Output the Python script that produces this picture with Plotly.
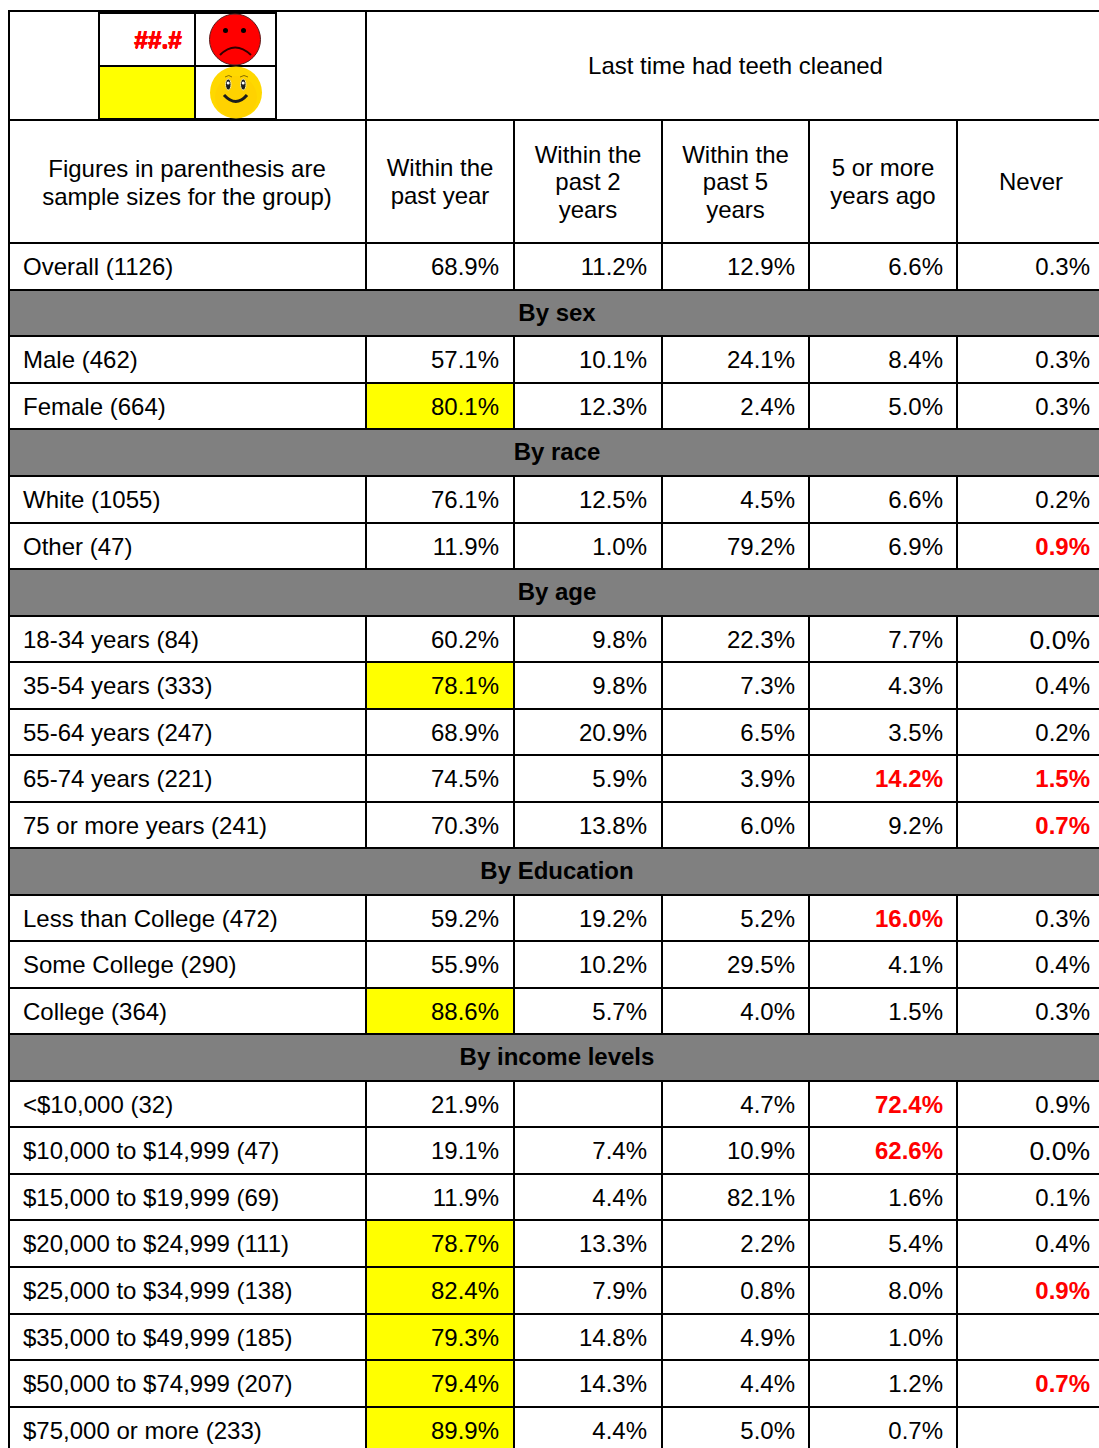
import plotly.graph_objects as go

# ---------- data ----------
title = "Last time had teeth cleaned"
stub_header = ["Figures in parenthesis are", "sample sizes for the group)"]
col_headers = [["Within the", "past year"], ["Within the", "past 2", "years"],
               ["Within the", "past 5", "years"], ["5 or more", "years ago"], ["Never"]]
row_labels = ["Overall (1126)", "By sex", "Male (462)", "Female (664)", "By race", "White (1055)", "Other (47)",
              "By age", "18-34 years (84)", "35-54 years (333)", "55-64 years (247)", "65-74 years (221)",
              "75 or more years (241)", "By Education", "Less than College (472)", "Some College (290)",
              "College (364)", "By income levels", "<$10,000 (32)", "$10,000 to $14,999 (47)",
              "$15,000 to $19,999 (69)", "$20,000 to $24,999 (111)", "$25,000 to $34,999 (138)",
              "$35,000 to $49,999 (185)", "$50,000 to $74,999 (207)", "$75,000 or more (233)"]
within_1y = [68.9, None, 57.1, 80.1, None, 76.1, 11.9, None, 60.2, 78.1, 68.9, 74.5, 70.3, None,
             59.2, 55.9, 88.6, None, 21.9, 19.1, 11.9, 78.7, 82.4, 79.3, 79.4, 89.9]
within_2y = [11.2, None, 10.1, 12.3, None, 12.5, 1.0, None, 9.8, 9.8, 20.9, 5.9, 13.8, None,
             19.2, 10.2, 5.7, None, None, 7.4, 4.4, 13.3, 7.9, 14.8, 14.3, 4.4]
within_5y = [12.9, None, 24.1, 2.4, None, 4.5, 79.2, None, 22.3, 7.3, 6.5, 3.9, 6.0, None,
             5.2, 29.5, 4.0, None, 4.7, 10.9, 82.1, 2.2, 0.8, 4.9, 4.4, 5.0]
five_plus = [6.6, None, 8.4, 5.0, None, 6.6, 6.9, None, 7.7, 4.3, 3.5, 14.2, 9.2, None,
             16.0, 4.1, 1.5, None, 72.4, 62.6, 1.6, 5.4, 8.0, 1.0, 1.2, 0.7]
never = [0.3, None, 0.3, 0.3, None, 0.2, 0.9, None, 0.0, 0.4, 0.2, 1.5, 0.7, None,
         0.3, 0.4, 0.3, None, 0.9, 0.0, 0.1, 0.4, 0.9, None, 0.7, None]
columns = [within_1y, within_2y, within_5y, five_plus, never]
section_rows = {"By sex", "By race", "By age", "By Education", "By income levels"}
yellow_rows = {"Female (664)", "35-54 years (333)", "College (364)", "$20,000 to $24,999 (111)",
               "$25,000 to $34,999 (138)", "$35,000 to $49,999 (185)", "$50,000 to $74,999 (207)",
               "$75,000 or more (233)"}
red_cells = {("Other (47)", 4), ("65-74 years (221)", 3), ("65-74 years (221)", 4),
             ("75 or more years (241)", 4), ("Less than College (472)", 3), ("<$10,000 (32)", 3),
             ("$10,000 to $14,999 (47)", 3), ("$25,000 to $34,999 (138)", 4), ("$50,000 to $74,999 (207)", 4)}
legend_sample = "##.#"

# ---------- layout constants ----------
W, H = 1099, 1448
row_edges = [243, 290, 336, 383, 429, 476, 523, 569, 616, 662, 709, 755, 802, 848, 895, 941, 988,
             1034, 1081, 1127, 1174, 1220, 1267, 1314, 1360, 1407, 1454]
col_edges = [366, 514, 662, 809, 957, 1105]
left, top, head1, head2 = 9, 11, 120, 243
col_right = [499, 647, 795, 943, 1090]
LW = 2
FS = 24
LEGEND_FS = 24.5


def line(x0, y0, x1, y1, w=LW):
    return dict(type="line", x0=x0, y0=y0, x1=x1, y1=y1, xref="x", yref="y",
                line=dict(color="black", width=w), layer="above")


def rect(x0, y0, x1, y1, fill):
    return dict(type="rect", x0=x0, y0=y0, x1=x1, y1=y1, xref="x", yref="y",
                fillcolor=fill, line=dict(width=0), layer="below")


def circle(cx, cy, r, fill, edge=None, w=0):
    return dict(type="circle", x0=cx - r, y0=cy - r, x1=cx + r, y1=cy + r, xref="x", yref="y",
                fillcolor=fill, line=dict(color=edge or fill, width=w), layer="above")


def curve(path, color, w):
    return dict(type="path", path=path, xref="x", yref="y", fillcolor="rgba(0,0,0,0)",
                line=dict(color=color, width=w), layer="above")


shapes = []
texts = {}


def put(x, y, s, pos, size=FS, color="black", bold=False):
    key = (pos, size, color, bold)
    g = texts.setdefault(key, dict(x=[], y=[], t=[]))
    g["x"].append(x)
    g["y"].append(y)
    g["t"].append(s)


# fills and cell text
for i, label in enumerate(row_labels):
    y0, y1 = row_edges[i], row_edges[i + 1]
    cy = (y0 + y1) / 2 + 2.9
    if label in section_rows:
        shapes.append(rect(left, y0, W, y1, "#808080"))
        put(557, cy - 1, label, "middle center", bold=True)
        continue
    put(23, cy, label, "middle right")
    if label in yellow_rows:
        shapes.append(rect(col_edges[0], y0, col_edges[1], y1, "#FFFF00"))
    for c, col in enumerate(columns):
        v = col[i]
        if v is None:
            continue
        s = f"{v:.1f}%"
        if (label, c) in red_cells:
            put(col_right[c], cy, s, "middle left", color="#FF0000", bold=True)
        elif v == 0:
            put(col_right[c], cy, s, "middle left", size=26.5)
        else:
            put(col_right[c], cy, s, "middle left")

# header text
put(735.5, 68, title, "middle center")
for j, ln in enumerate(stub_header):
    put(187, 171 + j * 27.5, ln, "middle center")
for c, hdr in enumerate(col_headers):
    cx = (col_edges[c] + col_edges[c + 1]) / 2
    if c == 4:
        cx = 1031
    y_start = 184 - (len(hdr) - 1) * 27.5 / 2
    for j, ln in enumerate(hdr):
        put(cx, y_start + j * 27.5, ln, "middle center")
put(182, 42, legend_sample, "middle left", size=LEGEND_FS, color="#FF0000", bold=True)

# legend box fill
shapes.append(rect(99, 66, 195, 119, "#FFFF00"))

# grid
shapes.append(line(left - 1, top, W, top))
shapes.append(line(left, head1, W, head1))
shapes.append(line(left, head2, W, head2))
for e in row_edges[1:-1]:
    shapes.append(line(left, e, W, e))
shapes.append(line(left, top, left, H))
for i, label in enumerate(row_labels):
    if label in section_rows:
        continue
    y0, y1 = row_edges[i], min(row_edges[i + 1], H)
    for x in col_edges[:5]:
        shapes.append(line(x, y0, x, y1))
shapes.append(line(col_edges[0], top, col_edges[0], head2))
for x in col_edges[1:5]:
    shapes.append(line(x, head1, x, head2))
# legend grid
for x in (99, 195, 276):
    shapes.append(line(x, 12, x, 119))
for y in (13, 66, 119):
    shapes.append(line(99, y, 276, y))

# faces
shapes += [
    circle(235, 39.5, 25.5, "#FF0000", "#5a1a1a", 1),
    circle(225.5, 30.5, 2.5, "black"), circle(243.5, 30.5, 2.5, "black"),
    curve("M 220 55 Q 235 40 251 55", "#300000", 2),
    circle(236, 92.5, 26, "#FFD800"),
    circle(236, 97, 21, "#FFD200"),
    curve("M 225 77 Q 229 74 232 77", "#8a6d00", 1),
    curve("M 240 77 Q 244 74 248 77", "#8a6d00", 1),
    dict(type="circle", x0=225.5, y0=79, x1=231, y1=90, xref="x", yref="y", fillcolor="#1c1c1c",
         line=dict(width=1, color="#f5e9a0"), layer="above"),
    dict(type="circle", x0=240.5, y0=79, x1=246, y1=90, xref="x", yref="y", fillcolor="#1c1c1c",
         line=dict(width=1, color="#f5e9a0"), layer="above"),
    circle(228.2, 83, 1.5, "white"), circle(243.2, 83, 1.5, "white"),
    curve("M 224 95 Q 236 108 247 95", "#1c1c1c", 3),
]

fig = go.Figure()
for (pos, size, color, bold), g in texts.items():
    font = dict(family="Liberation Sans", size=size, color=color, weight="bold" if bold else "normal")
    if size == LEGEND_FS:
        font["shadow"] = "0.5px 0 0 #FF0000, -0.5px 0 0 #FF0000, 0 0.5px 0 #FF0000"
    fig.add_trace(go.Scatter(
        x=g["x"], y=g["y"], text=g["t"], mode="text", textposition=pos,
        textfont=font, hoverinfo="skip", showlegend=False, cliponaxis=True))

fig.update_layout(
    width=W, height=H, margin=dict(l=0, r=0, t=0, b=0), paper_bgcolor="white", plot_bgcolor="white",
    shapes=shapes, showlegend=False,
    xaxis=dict(range=[0, W], visible=False, fixedrange=True),
    yaxis=dict(range=[H, 0], visible=False, fixedrange=True),
)
fig.write_html("out.html", config=dict(displayModeBar=False),
               post_script="document.body.style.margin='0';document.body.style.overflow='hidden';")
